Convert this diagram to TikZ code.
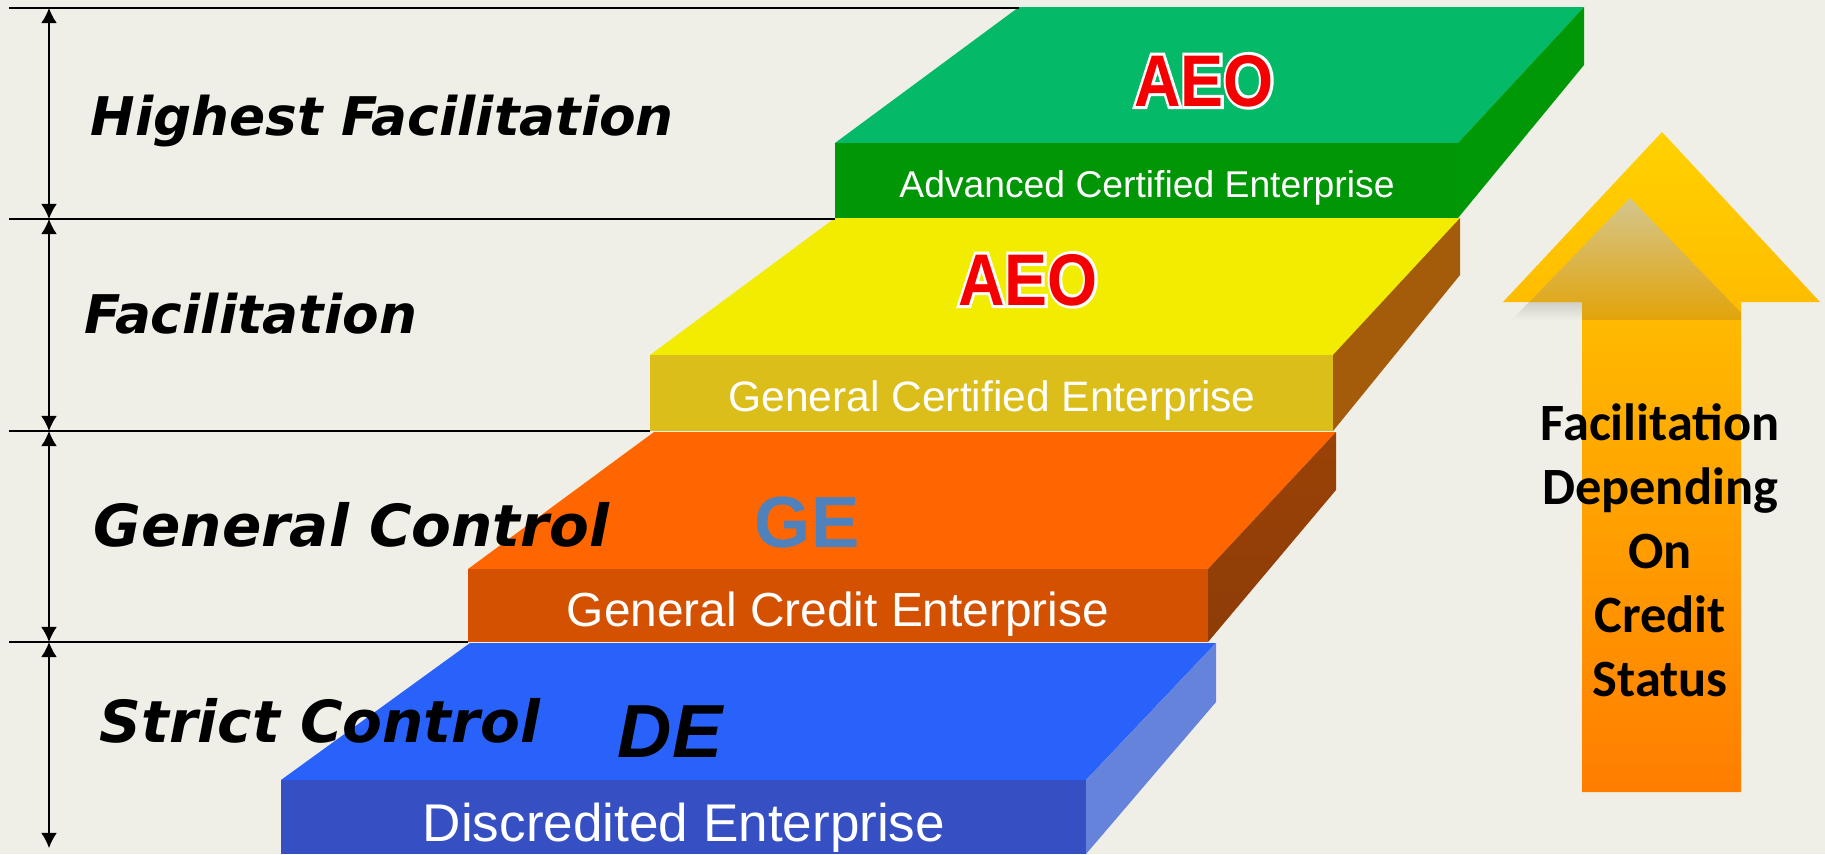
\documentclass[tikz,border=0pt]{standalone}
\usepackage{fontspec}
\usepackage{tikz}
\usetikzlibrary{arrows.meta}

\newfontfamily\labelfont{DejaVu Sans}
\newfontfamily\facefont{Liberation Sans}
\newfontfamily\arrowfont{Carlito}
\newfontface\aeofront{Liberation Sans Bold}
\newfontface\aeoback{Liberation Sans Bold}[FakeBold=8.2]

\definecolor{bgbeige}{HTML}{F0EFE7}
\definecolor{greentop}{HTML}{04BA68}
\definecolor{greenfront}{HTML}{009606}
\definecolor{greenside}{HTML}{009806}
\definecolor{yellowtop}{HTML}{F2EC00}
\definecolor{yellowfront}{HTML}{DCBE1B}
\definecolor{yellowside}{HTML}{A45C0B}
\definecolor{orangetop}{HTML}{FF6600}
\definecolor{orangefront}{HTML}{D35100}
\definecolor{orangesideA}{HTML}{9A4207}
\definecolor{orangesideB}{HTML}{552000}
\definecolor{orangesideC}{HTML}{8E3C07}
\definecolor{bluetop}{HTML}{2962FA}
\definecolor{bluefront}{HTML}{3650C3}
\definecolor{blueside}{HTML}{6683DC}
\definecolor{gesteel}{HTML}{4F81BD}
\definecolor{aeored}{RGB}{245,0,0}
\definecolor{arrowtop}{RGB}{255,210,0}
\definecolor{arrowbottom}{RGB}{255,125,0}
\definecolor{shadowtop}{RGB}{212,198,142}
\definecolor{shadowbottom}{RGB}{226,164,10}
\definecolor{fringegrey}{RGB}{208,207,200}

% red letters on a white outline
\newcommand{\aeotext}{\scalebox{0.88}[1]{\rlap{\color{white}\aeoback AEO}\aeofront AEO}}

\begin{document}
\begin{tikzpicture}[x=0.01cm,y=-0.01cm,
    levelline/.style={line width=0.5pt},
    levelarrow/.style={line width=0.4pt,{Latex[length=4.3pt,width=4.5pt]}-{Latex[length=4.3pt,width=4.5pt]}},
    leftlabel/.style={anchor=base west,inner sep=0pt},
    facetext/.style={anchor=base,inner sep=0pt,text=white},
    aeo/.style={anchor=base,inner sep=0pt,text=aeored,font={\aeofront\fontsize{20.8}{24}\selectfont}}]
  \fill[bgbeige] (0,0) rectangle (1825,854);
  \useasboundingbox (0,0) rectangle (1825,854);

  % blue slab
  \fill[bluetop] (470,643) -- (1216,643) -- (1086,780) -- (281,780) -- cycle;
  \fill[bluefront] (281,780) rectangle (1086,854);
  \fill[blueside] (1086,780) -- (1216,643) -- (1216,702) -- (1086,854) -- cycle;

  % orange slab
  \fill[orangetop] (654,432) -- (1336,432) -- (1208,569) -- (468,569) -- cycle;
  \fill[orangefront] (468,569) rectangle (1208,642);
  \shade[top color=orangesideA, middle color=orangesideB, bottom color=orangesideC]
    (1208,569) -- (1336,432) -- (1336,490) -- (1208,642) -- cycle;

  % yellow slab
  \fill[yellowtop] (835,218) -- (1460,218) -- (1333,355) -- (650,355) -- cycle;
  \fill[yellowfront] (650,355) rectangle (1333,431);
  \fill[yellowside] (1333,355) -- (1460,218) -- (1460,275) -- (1333,431) -- cycle;

  % green slab
  \fill[greentop] (1019,7) -- (1584,7) -- (1458,143) -- (835,143) -- cycle;
  \fill[greenfront] (835,143) rectangle (1458,218);
  \fill[greenside] (1458,143) -- (1584,7) -- (1584,65) -- (1458,218) -- cycle;

  % levels
  \draw[levelline] (9,8) -- (1019,8);
  \draw[levelline] (9,219) -- (835,219);
  \draw[levelline] (9,431) -- (650,431);
  \draw[levelline] (9,642) -- (468,642);
  \coordinate (m0) at (49,8);
  \coordinate (m1) at (49,219);
  \coordinate (m2) at (49,431);
  \coordinate (m3) at (49,642);
  \coordinate (m4) at (49,848);
  \draw[levelarrow] (m0) -- (m1);
  \draw[levelarrow] (m1) -- (m2);
  \draw[levelarrow] (m2) -- (m3);
  \draw[levelarrow] (m3) -- (m4);

  % big arrow
  \shade[top color=fringegrey, bottom color=bgbeige] (1529,302) -- (1582,302) -- (1582,320) -- (1512,320) -- cycle;
  \shade[top color=arrowtop, bottom color=arrowbottom]
    (1662,132) -- (1820,302) -- (1741,302) -- (1741,792) -- (1582,792) -- (1582,302) -- (1503,302) -- cycle;
  \begin{scope}
    \clip (1662,132) -- (1820,302) -- (1741,302) -- (1741,792) -- (1582,792) -- (1582,302) -- (1503,302) -- cycle;
    \shade[top color=shadowtop, bottom color=shadowbottom] (1630,198) -- (1748,320) -- (1512,320) -- cycle;
  \end{scope}
  \node[anchor=north, inner sep=0pt, align=center, font={\arrowfont\bfseries\fontsize{14.9}{18.2}\selectfont}]
    (status) at (1660,403) {Facilitation\\Depending\\On\\Credit\\Status};

  % slab texts
  \node[aeo] (aeotop) at (1204,106) {\aeotext};
  \node[aeo] (aeomid) at (1028,305) {\aeotext};
  \node[anchor=base west, inner sep=0pt, text=gesteel, font={\facefont\bfseries\fontsize{20.6}{24}\selectfont}] (ge) at (754,547) {GE};
  \node[anchor=base west, inner sep=0pt, font={\facefont\bfseries\itshape\fontsize{21.4}{24}\selectfont}] (de) at (617,757) {DE};
  \node[facetext, font={\facefont\fontsize{10.6}{13}\selectfont}] (ace) at (1147,197) {Advanced Certified Enterprise};
  \node[facetext, font={\facefont\fontsize{12.1}{14}\selectfont}] (gce) at (992,411) {General Certified Enterprise};
  \node[facetext, font={\facefont\fontsize{13.6}{16}\selectfont}] (gcr) at (838,626) {General Credit Enterprise};
  \node[facetext, font={\facefont\fontsize{15.1}{18}\selectfont}] (dis) at (684,841) {Discredited Enterprise};

  % left labels
  \node[leftlabel, font={\labelfont\bfseries\itshape\fontsize{15.15}{18}\selectfont}] (hifac) at (90,135) {Highest Facilitation};
  \node[leftlabel, font={\labelfont\bfseries\itshape\fontsize{15.15}{18}\selectfont}] (fac) at (84,333) {Facilitation};
  \node[leftlabel, font={\labelfont\bfseries\itshape\fontsize{16.5}{20}\selectfont}] (genc) at (93,546) {General Control};
  \node[leftlabel, font={\labelfont\bfseries\itshape\fontsize{16.5}{20}\selectfont}] (strc) at (99,742) {Strict Control};
\end{tikzpicture}
\end{document}
